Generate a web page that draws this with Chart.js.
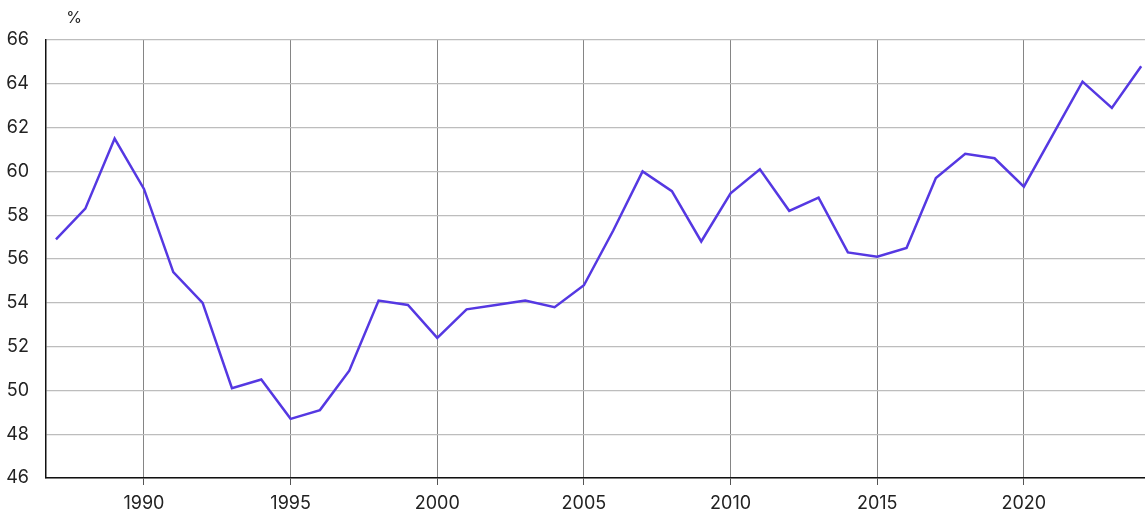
<!DOCTYPE html>
<html>
<head>
<meta charset="utf-8">
<script src="https://cdn.jsdelivr.net/npm/chart.js@4/dist/chart.umd.min.js"></script>
<style>
    html, body { margin: 0; padding: 0; background: #fff; }
    #wrap { width: 1145px; height: 516px; position: relative; }
</style>
</head>
<body>
<div id="wrap"><canvas id="chart"></canvas></div>
<script>
// data
const years = [1987, 1988, 1989, 1990, 1991, 1992, 1993, 1994, 1995, 1996,
    1997, 1998, 1999, 2000, 2001, 2002, 2003, 2004, 2005, 2006,
    2007, 2008, 2009, 2010, 2011, 2012, 2013, 2014, 2015, 2016,
    2017, 2018, 2019, 2020, 2021, 2022, 2023, 2024];
const values = [56.9, 58.3, 61.5, 59.2, 55.4, 54.0, 50.1, 50.5, 48.7, 49.1,
    50.9, 54.1, 53.9, 52.4, 53.7, 53.9, 54.1, 53.8, 54.8, 57.3,
    60.0, 59.1, 56.8, 59.0, 60.1, 58.2, 58.8, 56.3, 56.1, 56.5,
    59.7, 60.8, 60.6, 59.3, 61.7, 64.1, 62.9, 64.8];
const xTicks = [1990, 1995, 2000, 2005, 2010, 2015, 2020];
const yTicks = [46, 48, 50, 52, 54, 56, 58, 60, 62, 64, 66];
const unitLabel = '%';

const FONT = 'Inter, "Noto Sans", sans-serif';

// "%" above the y axis
const unitPlugin = {
    id: 'unitLabel',
    afterDraw(chart) {
        const ctx = chart.ctx;
        ctx.save();
        ctx.font = '16px ' + FONT;
        ctx.fillStyle = '#222';
        ctx.textAlign = 'center';
        ctx.textBaseline = 'middle';
        ctx.fillText(unitLabel, 74, 18);
        ctx.restore();
    }
};

new Chart(document.getElementById('chart'), {
    type: 'line',
    data: {
        datasets: [{
            data: years.map((y, i) => ({ x: y, y: values[i] })),
            borderColor: '#5538e2',
            borderWidth: 2.5,
            pointRadius: 0,
            tension: 0,
            fill: false,
            clip: false
        }]
    },
    options: {
        responsive: true,
        maintainAspectRatio: false,
        animation: false,
        layout: { padding: { top: 40, right: 0, left: 0, bottom: 0 } },
        plugins: {
            legend: { display: false },
            tooltip: { enabled: false }
        },
        scales: {
            x: {
                type: 'linear',
                min: 1986.66,
                max: 2024.13,
                afterBuildTicks: scale => {
                    scale.ticks = xTicks.map(v => ({ value: v }));
                },
                afterFit: scale => { scale.height = 38; },
                grid: {
                    color: '#858585',
                    lineWidth: 1,
                    drawTicks: true,
                    tickLength: 7,
                    tickColor: '#555'
                },
                border: { color: '#111', width: 1.5 },
                ticks: {
                    color: '#222',
                    font: { family: FONT, size: 18 },
                    padding: 8,
                    maxRotation: 0,
                    callback: v => String(v)
                }
            },
            y: {
                min: 46,
                max: 66,
                afterBuildTicks: scale => {
                    scale.ticks = yTicks.map(v => ({ value: v }));
                },
                afterFit: scale => { scale.width = 46; },
                grid: {
                    color: '#bdbdbd',
                    lineWidth: 1.2,
                    drawTicks: false
                },
                border: { color: '#111', width: 1.5 },
                ticks: {
                    color: '#222',
                    font: { family: FONT, size: 18 },
                    padding: 17,
                    callback: v => String(v)
                }
            }
        }
    },
    plugins: [unitPlugin]
});
</script>
</body>
</html>
